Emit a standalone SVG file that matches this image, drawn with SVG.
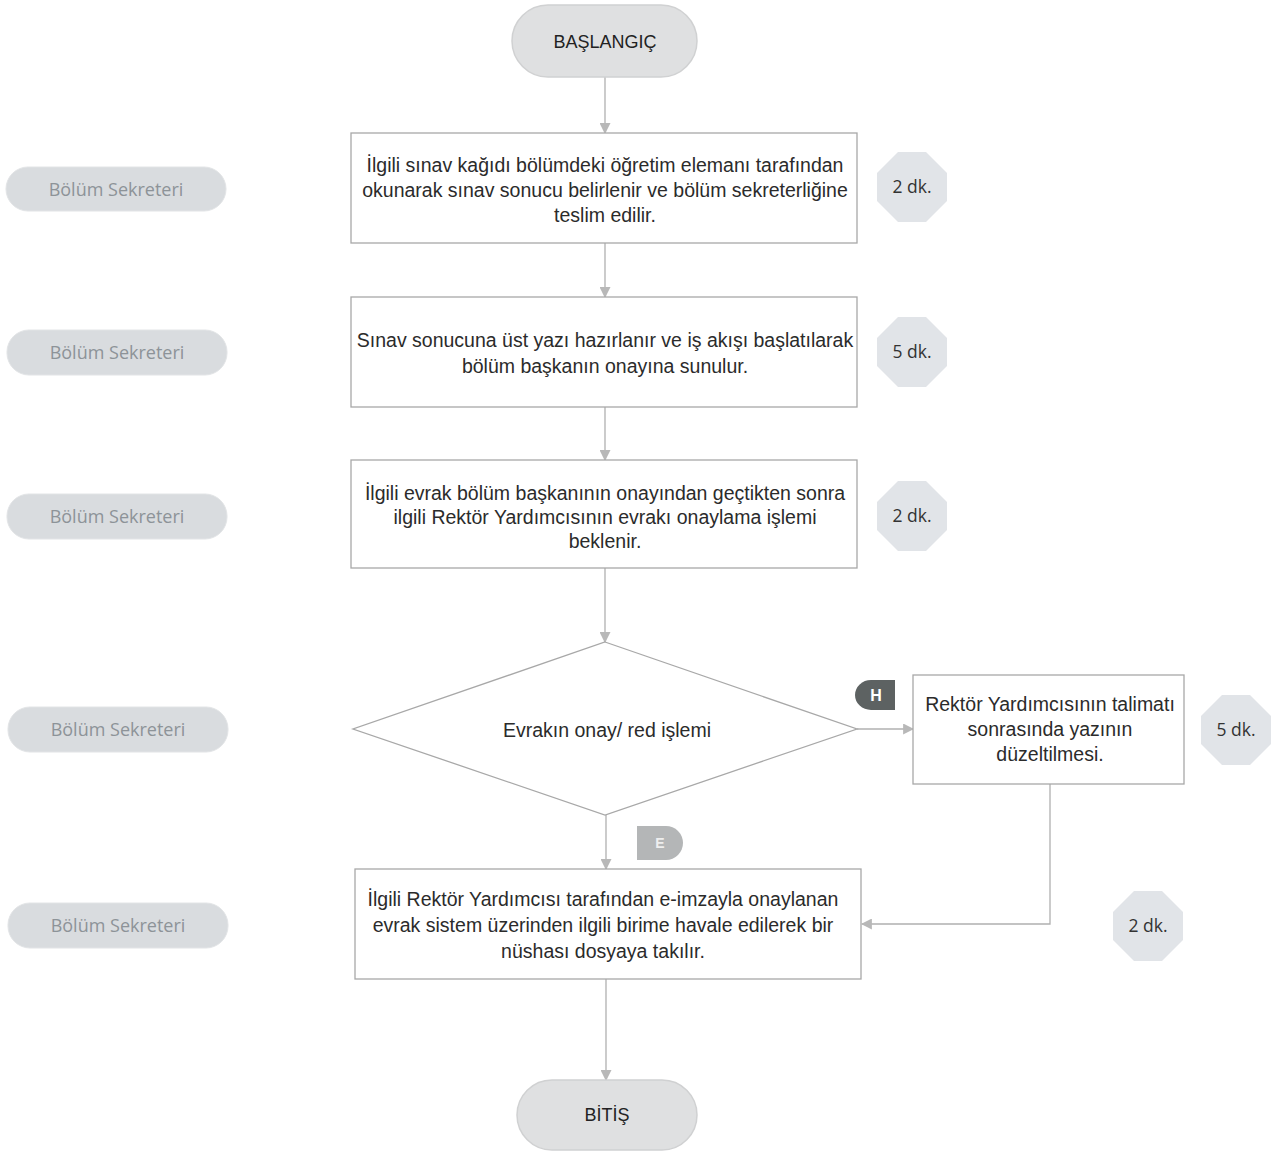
<svg xmlns="http://www.w3.org/2000/svg" width="1278" height="1152" viewBox="0 0 1278 1152">
<style>
.box{fill:#ffffff;stroke:#a8a8a8;stroke-width:1.3}
.term{fill:#dfe0e1;stroke:#d0d1d2;stroke-width:1.5}
.pill{fill:#d9dcdf;stroke:#e2e4e6;stroke-width:1}
.oct{fill:#e1e4e8}
.t{font-family:"Liberation Sans",Arial,sans-serif;font-size:19.5px;fill:#2b2b2b;text-anchor:middle}
.tt{font-family:"Liberation Sans",Arial,sans-serif;font-size:18px;fill:#222;text-anchor:middle}
.pt{font-family:"Open Sans","Liberation Sans",sans-serif;font-size:18px;fill:#8d9398;text-anchor:middle}
.dk{font-family:"Open Sans","Liberation Sans",sans-serif;font-size:17.5px;fill:#333;text-anchor:middle}
.conn{fill:none;stroke:#b0b0b0;stroke-width:1.3}
</style>
<defs>
<marker id="arr" viewBox="0 0 10 10" refX="9" refY="5" markerWidth="11" markerHeight="11" markerUnits="userSpaceOnUse" orient="auto">
<path d="M0,0 L10,5 L0,10 Z" fill="#b8b8b8"/>
</marker>
<polygon id="octa" points="-14,-35 14,-35 35,-14 35,14 14,35 -14,35 -35,14 -35,-14"/>
</defs>

<g id="connectors">
<line class="conn" x1="605" y1="77" x2="605" y2="133" marker-end="url(#arr)"/>
<line class="conn" x1="605" y1="243" x2="605" y2="297" marker-end="url(#arr)"/>
<line class="conn" x1="605" y1="407" x2="605" y2="460" marker-end="url(#arr)"/>
<line class="conn" x1="605" y1="568" x2="605" y2="642" marker-end="url(#arr)"/>
<line class="conn" x1="857" y1="729" x2="913" y2="729" marker-end="url(#arr)"/>
<line class="conn" x1="606" y1="815" x2="606" y2="869" marker-end="url(#arr)"/>
<polyline class="conn" points="1050,784 1050,924 862,924" marker-end="url(#arr)"/>
<line class="conn" x1="606" y1="979" x2="606" y2="1080" marker-end="url(#arr)"/>
</g>

<g id="start">
<rect class="term" x="512" y="5" width="185" height="72" rx="36"/>
<text class="tt" x="605" y="48">BAŞLANGIÇ</text>
</g>

<g id="step1">
<rect class="box" x="351" y="133" width="506" height="110"/>
<text class="t" x="605" y="172">İlgili sınav kağıdı bölümdeki öğretim elemanı tarafından</text>
<text class="t" x="605" y="197">okunarak sınav sonucu belirlenir ve bölüm sekreterliğine</text>
<text class="t" x="605" y="222">teslim edilir.</text>
</g>
<g id="role1"><rect class="pill" x="6" y="167" width="220" height="44" rx="22"/><text class="pt" x="116" y="196">Bölüm Sekreteri</text></g>
<g id="time1"><use href="#octa" class="oct" x="912" y="187"/><text class="dk" x="912" y="193">2 dk.</text></g>

<g id="step2">
<rect class="box" x="351" y="297" width="506" height="110"/>
<text class="t" x="605" y="347">Sınav sonucuna üst yazı hazırlanır ve iş akışı başlatılarak</text>
<text class="t" x="605" y="373">bölüm başkanın onayına sunulur.</text>
</g>
<g id="role2"><rect class="pill" x="7" y="330" width="220" height="45" rx="22"/><text class="pt" x="117" y="359">Bölüm Sekreteri</text></g>
<g id="time2"><use href="#octa" class="oct" x="912" y="352"/><text class="dk" x="912" y="358">5 dk.</text></g>

<g id="step3">
<rect class="box" x="351" y="460" width="506" height="108"/>
<text class="t" x="605" y="500">İlgili evrak bölüm başkanının onayından geçtikten sonra</text>
<text class="t" x="605" y="524">ilgili Rektör Yardımcısının evrakı onaylama işlemi</text>
<text class="t" x="605" y="548">beklenir.</text>
</g>
<g id="role3"><rect class="pill" x="7" y="494" width="220" height="45" rx="22"/><text class="pt" x="117" y="523">Bölüm Sekreteri</text></g>
<g id="time3"><use href="#octa" class="oct" x="912" y="516"/><text class="dk" x="912" y="522">2 dk.</text></g>

<g id="decision">
<polygon class="box" points="605,642 857,729 605,815 353,729"/>
<text class="t" x="607" y="737">Evrakın onay/ red işlemi</text>
</g>
<g id="role4"><rect class="pill" x="8" y="707" width="220" height="45" rx="22"/><text class="pt" x="118" y="736">Bölüm Sekreteri</text></g>

<g id="tagH">
<path d="M895,680 L871,680 A16,15 0 0 0 855,695 A16,15 0 0 0 871,710 L895,710 Z" fill="#5d6262"/>
<text x="876" y="701" font-family="Liberation Sans,Arial,sans-serif" font-size="16" font-weight="bold" fill="#ffffff" text-anchor="middle">H</text>
</g>
<g id="tagE">
<path d="M637,826 L666,826 A17,17 0 0 1 666,860 L637,860 Z" fill="#b4b6b7"/>
<text x="660" y="848" font-family="Liberation Sans,Arial,sans-serif" font-size="14" font-weight="bold" fill="#eeeeee" text-anchor="middle">E</text>
</g>

<g id="correction">
<rect class="box" x="913" y="675" width="271" height="109"/>
<text class="t" x="1050" y="711">Rektör Yardımcısının talimatı</text>
<text class="t" x="1050" y="736">sonrasında yazının</text>
<text class="t" x="1050" y="761">düzeltilmesi.</text>
</g>
<g id="time4"><use href="#octa" class="oct" x="1236" y="730"/><text class="dk" x="1236" y="736">5 dk.</text></g>

<g id="step5">
<rect class="box" x="355" y="869" width="506" height="110"/>
<text class="t" x="603" y="906">İlgili Rektör Yardımcısı tarafından e-imzayla onaylanan</text>
<text class="t" x="603" y="932">evrak sistem üzerinden ilgili birime havale edilerek bir</text>
<text class="t" x="603" y="958">nüshası dosyaya takılır.</text>
</g>
<g id="role5"><rect class="pill" x="8" y="903" width="220" height="45" rx="22"/><text class="pt" x="118" y="932">Bölüm Sekreteri</text></g>
<g id="time5"><use href="#octa" class="oct" x="1148" y="926"/><text class="dk" x="1148" y="932">2 dk.</text></g>

<g id="end">
<rect class="term" x="517" y="1080" width="180" height="70" rx="35"/>
<text class="tt" x="607" y="1121">BİTİŞ</text>
</g>
</svg>
